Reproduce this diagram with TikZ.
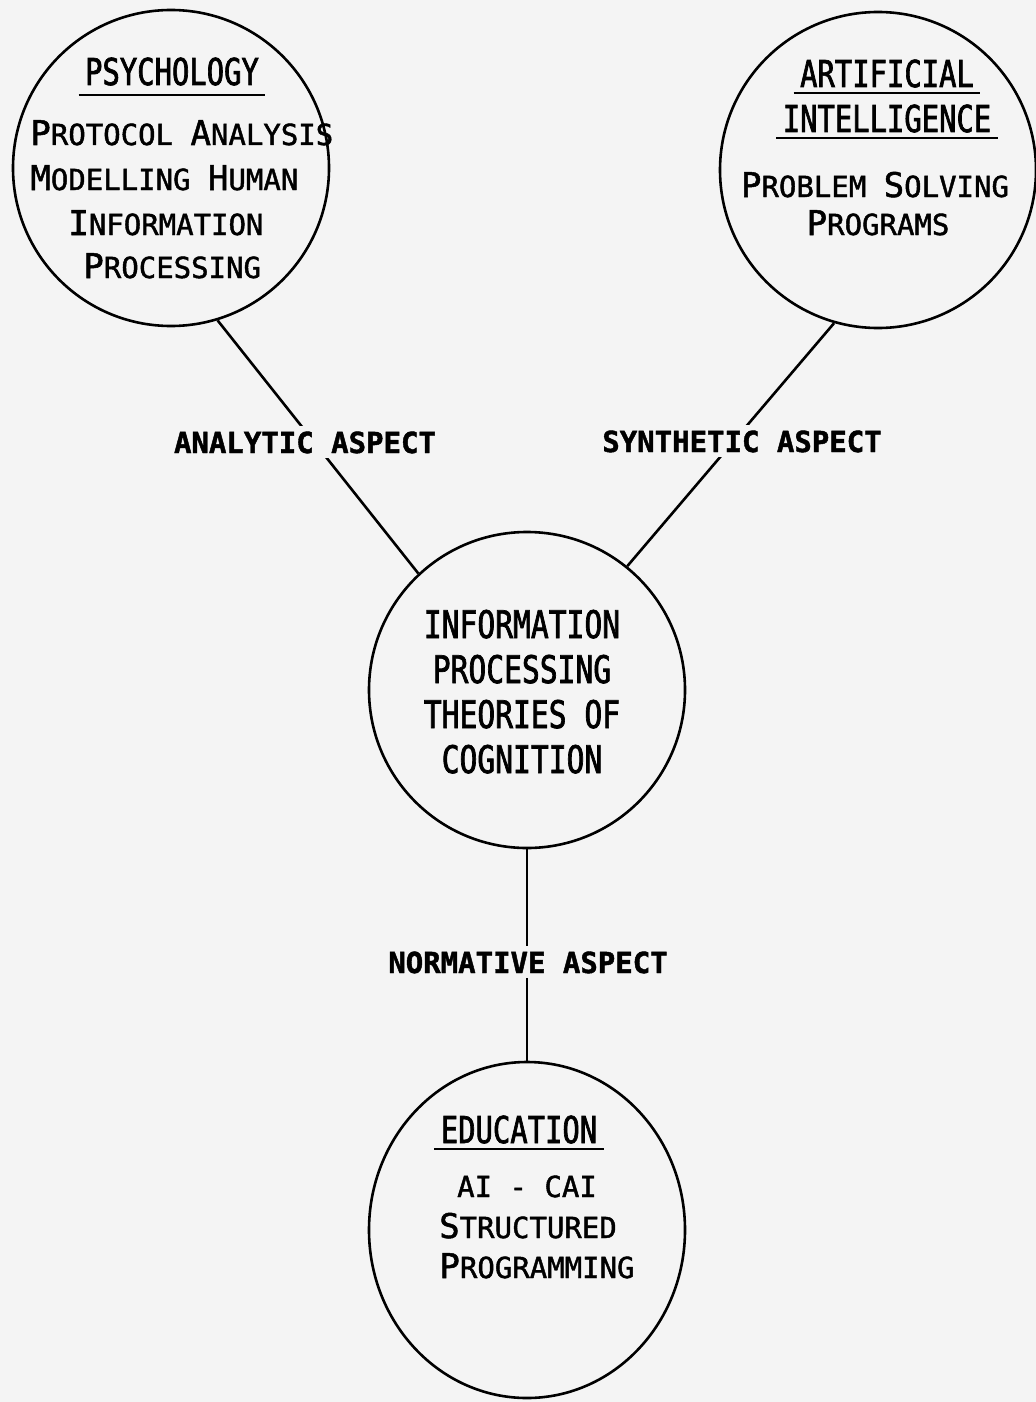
\documentclass[tikz,border=0pt]{standalone}
\usepackage{fontspec}
\usetikzlibrary{shapes.geometric}
\newfontfamily\typefont[FakeBold=1.5]{DejaVu Sans Mono}
\newfontfamily\headfont[FakeStretch=0.78, FakeBold=1.8]{DejaVu Sans Mono}
\definecolor{paper}{RGB}{244,244,244}
% chu cai dau lon hon (kieu small caps)
\newcommand{\initcap}[1]{{\fontsize{17}{17}\selectfont #1}}
\tikzset{
  ring/.style={circle, draw, line width=1.3pt, minimum size=158pt, inner sep=0pt},
  head/.style={font={\headfont\fontsize{18.5}{20}\selectfont}, inner sep=0pt, anchor=base},
  body/.style={font={\typefont\fontsize{14.5}{17}\selectfont}, inner sep=0pt},
  aspect/.style={font={\typefont\bfseries\fontsize{14.5}{17}\selectfont}, fill=paper, inner sep=2.5pt, anchor=base}
}
\begin{document}
\begin{tikzpicture}[x=0.5pt, y=-0.5pt]
  % --- 1. Nen giay ---
  \fill[paper] (0,0) rectangle (1036,1402);
  \useasboundingbox (0,0) rectangle (1036,1402);

  % --- 2. Cac vong tron ---
  \node[ring] (psy) at (171,168) {};
  \node[ring] (ai) at (878,170) {};
  \node[ring] (ipt) at (527,690) {};
  \node[ring, ellipse, minimum width=158pt, minimum height=168pt] (edu) at (527,1230) {};

  % --- 3. Cac duong noi ---
  \draw[line width=1.3pt] (psy.-73.5) -- (ipt.133.8);
  \draw[line width=1.3pt] (ai.-106.8) -- (ipt.51.1);
  \draw[line width=1.3pt] (ipt.south) -- (edu.north);

  % --- 4. Nhan tren duong noi ---
  \node[aspect] (ana) at (305,453) {ANALYTIC ASPECT};
  \node[aspect] (syn) at (742,452) {SYNTHETIC ASPECT};
  \node[aspect] (norm) at (528,973) {NORMATIVE ASPECT};

  % --- 5. Chu trong cac vong tron ---
  % Psychology
  \node[head] (psyt) at (172,85) {PSYCHOLOGY};
  \node[body, anchor=base west] (psy1) at (30,145) {\initcap{P}ROTOCOL \initcap{A}NALYSIS};
  \node[body, anchor=base west] (psy2) at (30,190) {\initcap{M}ODELLING \initcap{H}UMAN};
  \node[body, anchor=base west] (psy3) at (68,235) {\initcap{I}NFORMATION};
  \node[body, anchor=base west] (psy4) at (83,278) {\initcap{P}ROCESSING};
  % Artificial intelligence
  \node[head] (ait1) at (887,87) {ARTIFICIAL};
  \node[head] (ait2) at (887,132) {INTELLIGENCE};
  \node[body, anchor=base] (ai1) at (875,197) {\initcap{P}ROBLEM \initcap{S}OLVING};
  \node[body, anchor=base] (ai2) at (878,235) {\initcap{P}ROGRAMS};
  % Information processing
  \foreach \txt [count=\i] in {INFORMATION, PROCESSING, THEORIES OF, COGNITION}
    \node[head, font={\headfont\fontsize{19}{20}\selectfont}] (ipt\i) at (522,593+45*\i) {\txt};
  % Education
  \node[head] (edut) at (519,1143) {EDUCATION};
  \node[body, anchor=base] (edu1) at (527,1197) {AI - CAI};
  \node[body, anchor=base] (edu2) at (528,1238) {\initcap{S}TRUCTURED};
  \node[body, anchor=base] (edu3) at (537,1278) {\initcap{P}ROGRAMMING};

  % --- 6. Gach chan tieu de ---
  \foreach \t/\d in {psyt/5pt, ait1/3pt, ait2/3pt, edut/3pt}
    \draw[line width=1.3pt] ([xshift=-3pt,yshift=-\d]\t.base west) -- ([xshift=3pt,yshift=-\d]\t.base east);
\end{tikzpicture}
\end{document}
